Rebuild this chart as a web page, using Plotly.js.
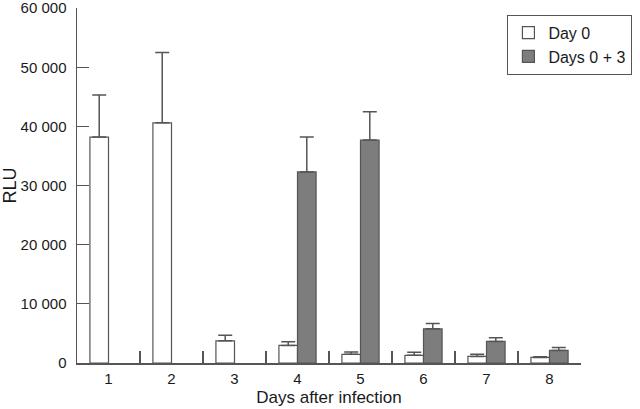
<!DOCTYPE html>
<html>
<head>
<meta charset="utf-8">
<script src="https://cdn.plot.ly/plotly-3.0.1.min.js"></script>
<style>html,body{margin:0;padding:0;background:#fff;}#chart{width:640px;height:409px;}</style>
</head>
<body>
<div id="chart"></div>
<script>
const categories = ["1", "2", "3", "4", "5", "6", "7", "8"];
const day0 = [38200, 40600, 3750, 2970, 1460, 1290, 1120, 950];
const day0Err = [7100, 11900, 950, 630, 390, 510, 340, 110];
const days03 = [null, null, null, 32300, 37700, 5770, 3650, 2130];
const days03Err = [null, null, null, 5900, 4800, 900, 610, 510];
const yTickVals = [0, 10000, 20000, 30000, 40000, 50000, 60000];
const yTickText = ["0", "10 000", "20 000", "30 000", "40 000", "50 000", "60 000"];

const lineCol = "#555555";
const textCol = "#1a1a1a";
const fam = "Liberation Sans, Arial, sans-serif";

const traces = [
  {
    type: "bar", name: "Day 0", x: categories, y: day0,
    marker: {color: "#ffffff", line: {color: lineCol, width: 1.2}},
    error_y: {type: "data", array: day0Err, symmetric: false, arrayminus: day0.map(() => 0), color: lineCol, thickness: 1.5, width: 7},
    hoverinfo: "skip"
  },
  {
    type: "bar", name: "Days 0 + 3", x: categories, y: days03,
    marker: {color: "#7d7d7d", line: {color: lineCol, width: 1.2}},
    error_y: {type: "data", array: days03Err, symmetric: false, arrayminus: days03.map(() => 0), color: lineCol, thickness: 1.5, width: 7},
    hoverinfo: "skip"
  }
];

const layout = {
  width: 640, height: 409,
  margin: {l: 77, r: 57, t: 8, b: 46},
  paper_bgcolor: "#fff", plot_bgcolor: "#fff",
  font: {family: fam, size: 15, color: textCol},
  barmode: "group", bargap: 0.41, bargroupgap: 0,
  showlegend: true,
  legend: {
    x: 0.854, y: 0.981, xanchor: "left", yanchor: "top",
    bordercolor: lineCol, borderwidth: 1, bgcolor: "#fff",
    font: {family: fam, size: 16, color: textCol},
    tracegroupgap: 0, itemwidth: 30
  },
  xaxis: {
    type: "category", tickson: "boundaries",
    ticks: "inside", ticklen: 12, tickwidth: 1.2, tickcolor: lineCol,
    showline: true, linecolor: lineCol, linewidth: 1.5,
    showgrid: false, zeroline: false, fixedrange: true,
    tickfont: {family: fam, size: 15, color: textCol},
    ticklabelstandoff: 1,
    title: {text: "Days after infection", font: {family: fam, size: 17, color: textCol}, standoff: 5}
  },
  yaxis: {
    range: [0, 60020], tickmode: "array", tickvals: yTickVals, ticktext: yTickText,
    ticks: "inside", ticklen: 12, tickwidth: 1.2, tickcolor: lineCol,
    showline: true, linecolor: lineCol, linewidth: 1.5,
    showgrid: false, zeroline: false, fixedrange: true,
    ticklabeloverflow: "allow", ticklabelstandoff: 6,
    tickfont: {family: fam, size: 15, color: textCol},
    title: {text: "RLU", font: {family: fam, size: 18, color: textCol}, standoff: 6}
  }
};

Plotly.newPlot("chart", traces, layout, {staticPlot: true, displayModeBar: false});
</script>
</body>
</html>
